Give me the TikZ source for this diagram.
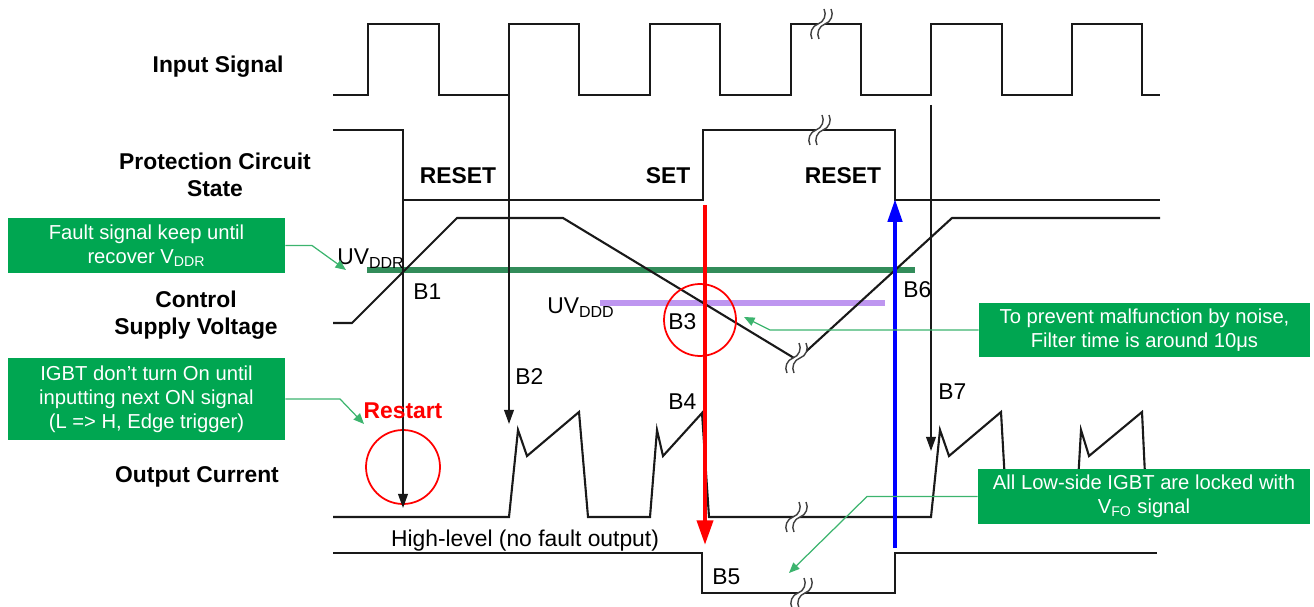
\documentclass[tikz,border=0pt]{standalone}
\usepackage{fontspec}
\setmainfont{Liberation Sans}
\usetikzlibrary{arrows.meta}

\definecolor{boxgreen}{RGB}{0,166,81}
\definecolor{calloutgreen}{RGB}{60,180,110}
\definecolor{uvgreen}{RGB}{50,140,90}
\definecolor{uvpurple}{RGB}{190,150,240}

\tikzset{
    wave/.style={line width=1.2pt, black!90, line join=miter},
    rowlabel/.style={font=\bfseries\fontsize{13}{15.2}\selectfont, align=center, inner sep=0pt},
    statelabel/.style={font=\bfseries\fontsize{13}{15}\selectfont, inner sep=0pt},
    blabel/.style={anchor=west, font=\fontsize{13}{15}\selectfont, inner sep=0pt},
    faultbox/.style={fill=boxgreen, text=white, align=center, inner sep=2pt,
        font=\fontsize{11.5}{13.7}\selectfont},
    callout/.style={calloutgreen, line width=0.7pt, -{Triangle[length=6pt,width=5pt]}},
    trigarrow/.style={line width=1pt, black!90, -{Triangle[length=8pt,width=5.5pt]}},
    setarrow/.style={line width=2.4pt, red, -{Triangle[length=14pt,width=9pt]}},
    resetarrow/.style={line width=2.4pt, blue, -{Triangle[length=13pt,width=8pt]}},
    ring/.style={circle, draw=red, line width=1pt, inner sep=0pt},
    breakmark/.pic={
        \fill[white] (-10,15) .. controls (-13,9.4) and (-10,1.9) .. (-4,0)
            .. controls (2,-1.9) and (5,-9.4) .. (2,-15) -- (9,-15)
            .. controls (12,-9.4) and (9,-1.9) .. (3,0)
            .. controls (-3,1.9) and (-6,9.4) .. (-3,15) -- cycle;
        \draw[black!75, line width=0.8pt] (-10,15) .. controls (-13,9.4) and (-10,1.9) .. (-4,0)
            .. controls (2,-1.9) and (5,-9.4) .. (2,-15);
        \draw[black!75, line width=0.8pt] (-3,15) .. controls (-6,9.4) and (-3,1.9) .. (3,0)
            .. controls (9,-1.9) and (12,-9.4) .. (9,-15);
    }
}

\begin{document}
\begin{tikzpicture}[x=0.02cm, y=-0.02cm]
    \useasboundingbox (0,0) rectangle (1314,607);

    % row labels
    \node[rowlabel] (lin) at (218,67) {Input Signal};
    \node[rowlabel] (lpc) at (215,175) {Protection Circuit\\State};
    \node[rowlabel] (lcs) at (196,315) {Control\\Supply Voltage};
    \node[rowlabel] (loc) at (197,477) {Output Current};

    % waveforms
    \draw[wave] (333,95) -- (368,95) -- (368,24) -- (439,24) -- (439,95) -- (509,95) -- (509,24)
        -- (579,24) -- (579,95) -- (650,95) -- (650,24) -- (720,24) -- (720,95) -- (791,95)
        -- (791,24) -- (861,24) -- (861,95) -- (931,95) -- (931,24) -- (1002,24) -- (1002,95)
        -- (1072,95) -- (1072,24) -- (1142,24) -- (1142,95) -- (1160,95);
    \draw[wave] (333,130) -- (403,130) -- (403,200) -- (703,200) -- (703,130) -- (895,130)
        -- (895,200) -- (1160,200);
    \draw[uvgreen, line width=3pt] (367,270) -- (915,270);
    \draw[uvpurple, line width=3pt] (600,303) -- (885,303);
    \draw[wave] (333,323) -- (352,323) -- (457,218) -- (563,218) -- (794,358);
    \draw[wave] (800,357) -- (952,218) -- (1160,218);
    \draw[wave] (333,517) -- (509,517) -- (518,430) -- (527,456) -- (579,412) -- (588,517)
        -- (650,517) -- (657,430) -- (663,456) -- (702,413) -- (709,517) -- (931,517)
        -- (940,430) -- (949,456) -- (1001,412) -- (1007,517) -- (1076,517) -- (1081,430)
        -- (1089,456) -- (1142,412) -- (1147,517);
    \draw[wave] (333,553) -- (702,553) -- (702,593) -- (895,593) -- (895,553) -- (1157,553);

    % breaks
    \pic at (822,24) {breakmark};
    \pic at (820,130) {breakmark};
    \pic at (797,358) {breakmark};
    \pic at (797,517) {breakmark};
    \pic at (802,593) {breakmark};

    % state labels
    \node[statelabel] (rst1) at (458,176) {RESET};
    \node[statelabel] (set) at (668,176) {SET};
    \node[statelabel] (rst2) at (843,176) {RESET};

    % trigger points
    \coordinate (b1top) at (403,200);
    \coordinate (b1end) at (403,508);
    \coordinate (b2top) at (509,95);
    \coordinate (b2end) at (509,424);
    \coordinate (b7top) at (931,105);
    \coordinate (b7end) at (931,451);
    \coordinate (settop) at (705,205);
    \coordinate (setend) at (705,545);
    \coordinate (rstbot) at (895,548);
    \coordinate (rsttop) at (895,199);

    \node[ring, minimum size=1.48cm] (restart) at (403,467) {};
    \node[ring, minimum size=1.44cm] (filter) at (700,320) {};

    \draw[trigarrow] (b1top) -- (b1end);
    \draw[trigarrow] (b2top) -- (b2end);
    \draw[trigarrow] (b7top) -- (b7end);
    \draw[setarrow] (settop) -- (setend);
    \draw[resetarrow] (rstbot) -- (rsttop);

    % point labels
    \node[blabel] (uvr) at (337,259) {UV\textsubscript{DDR}};
    \node[blabel] (uvd) at (547,308) {UV\textsubscript{DDD}};
    \node[blabel] (pb1) at (413,292) {B1};
    \node[blabel] (pb2) at (515,377) {B2};
    \node[blabel] (pb3) at (668,322) {B3};
    \node[blabel] (pb4) at (668,402) {B4};
    \node[blabel] (pb5) at (712,577) {B5};
    \node[blabel] (pb6) at (903,290) {B6};
    \node[blabel] (pb7) at (938,392) {B7};
    \node[font=\bfseries\fontsize{13}{15}\selectfont, text=red, inner sep=0pt] (rtxt) at (403,411) {Restart};
    \node[font=\fontsize{13}{15}\selectfont, inner sep=0pt] (hlvl) at (525,541) {High-level (no fault output)};

    % notes
    \node[faultbox, minimum width=5.54cm, minimum height=1.1cm] (fb1) at (146.5,245.5)
        {Fault signal keep until\\recover V\textsubscript{DDR}};
    \node[faultbox, minimum width=5.54cm, minimum height=1.64cm] (fb2) at (146.5,399)
        {IGBT don’t turn On until\\inputting next ON signal\\(L => H, Edge trigger)};
    \node[faultbox, minimum width=6.62cm, minimum height=1.1cm] (fb3) at (1144.5,330)
        {To prevent malfunction by noise,\\Filter time is around 10μs};
    \node[faultbox, minimum width=6.64cm, minimum height=1.1cm] (fb4) at (1144,496.5)
        {All Low-side IGBT are locked with\\V\textsubscript{FO} signal};

    \coordinate (tip1) at (346,270);
    \coordinate (tip2) at (364,424);
    \coordinate (tip3) at (744,317);
    \coordinate (tip4) at (789,573);
    \draw[callout] (fb1.east) -- (312,245.5) -- (tip1);
    \draw[callout] (fb2.east) -- (340,399) -- (tip2);
    \draw[callout] (fb3.west) -- (770,330) -- (tip3);
    \draw[callout] (fb4.west) -- (867,496.5) -- (tip4);
\end{tikzpicture}
\end{document}
